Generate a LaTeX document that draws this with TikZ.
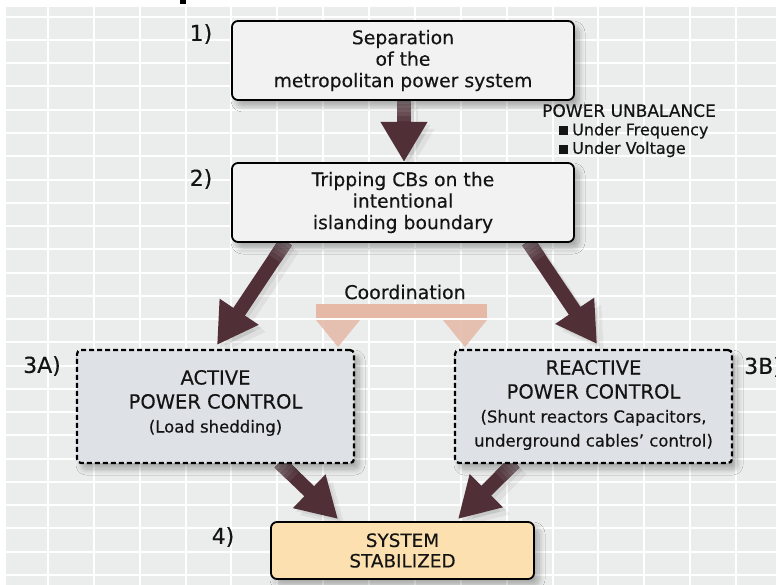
\documentclass[tikz,border=0pt]{standalone}
\usepackage{fontspec}
\setmainfont{DejaVu Sans}[FakeBold=0.35]
\usetikzlibrary{arrows.meta,shadows.blur,calc}
\definecolor{gridbg}{RGB}{235,236,236}
\definecolor{arrowc}{RGB}{80,47,55}
\definecolor{fadec}{RGB}{160,148,152}
\definecolor{boxgray}{RGB}{242,242,242}
\definecolor{boxblue}{RGB}{222,226,230}
\definecolor{boxpeach}{RGB}{252,224,175}
\definecolor{coordc}{RGB}{229,185,166}
\definecolor{txt}{RGB}{20,20,20}
\tikzset{
  boxshadow/.style={blur shadow={shadow xshift=5pt, shadow yshift=-6pt, shadow blur steps=10, shadow blur radius=6pt, shadow opacity=30}},
  stepbox/.style={draw=black, line width=1.8pt, rounded corners=6pt, fill=boxgray,
    minimum width=342pt, minimum height=79pt, align=center, text=txt, inner sep=0pt,
    font=\fontsize{18.8}{21.5}\selectfont, boxshadow},
  ctrlbox/.style={draw=black, line width=2.2pt, dash pattern=on 5pt off 3pt, rounded corners=4pt, fill=boxblue,
    minimum width=277pt, minimum height=113pt, boxshadow},
  ctrltext/.style={align=center, text=txt, inner sep=0pt, font=\fontsize{19.5}{24}\selectfont},
  endbox/.style={draw=black, line width=1.8pt, rounded corners=6pt, fill=boxpeach,
    minimum width=263pt, minimum height=57pt, align=center, text=txt, inner sep=0pt,
    font=\fontsize{18.4}{20.5}\selectfont, boxshadow},
  steplabel/.style={text=txt, font=\fontsize{22}{24}\selectfont, inner sep=0pt},
  bigarrow/.style={draw=arrowc, line width=14pt, -{Triangle[width=44pt,length=40pt]}},
  arrowshadow/.style={bigarrow, draw=black, opacity=#1},
  shaftpiece/.style={line width=14pt}
}
\newcommand{\parenfont}{\fontsize{16.5}{23}\selectfont}
% arrow with soft shadow and a shaft that fades near its source
\newcommand{\fadedarrow}[2]{%
  \draw[arrowshadow=.06, transform canvas={shift={(3pt,-3pt)}}] (#1) -- (#2);
  \draw[arrowshadow=.05, transform canvas={shift={(7pt,-7pt)}}] (#1) -- (#2);
  \draw[bigarrow] (#1) -- (#2);
  \foreach \kk [evaluate=\kk as \fa using 4*\kk, evaluate=\kk as \fb using 4*\kk+4.6,
                evaluate=\kk as \fc using int(75-15*\kk)] in {0,...,4}{
    \draw[shaftpiece, draw=fadec!\fc!arrowc] ($(#1)!\fa pt!(#2)$) -- ($(#1)!\fb pt!(#2)$);
  }%
}
\begin{document}
\begin{tikzpicture}[x=1pt,y=-1pt]
\useasboundingbox (0,0) rectangle (776,585);
% grid background
\fill[gridbg] (6,7) rectangle (776,585);
\foreach \i in {0,...,15} \draw[white,line width=2pt] ({48+45.87*\i},7) -- ({48+45.87*\i},585);
\foreach \j in {0,...,24} \draw[white,line width=2pt] (6,{16.7+23.26*\j}) -- (776,{16.7+23.26*\j});
\fill[black] (180,0) rectangle (186,4);

% box centres
\path (403,60.5) coordinate (c1) (403,202.5) coordinate (c2)
      (215.5,406.5) coordinate (c3a) (593.5,406.5) coordinate (c3b)
      (402.5,550.5) coordinate (c4);

% arrows
\path (c1) ++(1,39.5) coordinate (a1s) (c2) ++(1,-40.5) coordinate (a1e);
\fadedarrow{a1s}{a1e}
\path (c2) ++(-117,39) coordinate (a2s) (c3a) ++(1.5,-61.5) coordinate (a2e);
\fadedarrow{a2s}{a2e}
\path (c2) ++(125,39) coordinate (a3s) (c3b) ++(3.5,-62.5) coordinate (a3e);
\fadedarrow{a3s}{a3e}
\path (c3a) ++(64,56) coordinate (a4s) (c4) ++(-64.5,-31.5) coordinate (a4e);
\fadedarrow{a4s}{a4e}
\path (c3b) ++(-79,56) coordinate (a5s) (c4) ++(55.5,-31.5) coordinate (a5e);
\fadedarrow{a5s}{a5e}

\node[stepbox] (b1) at (c1) {Separation\\of the\\metropolitan power system};
\node[stepbox] (b2) at (c2) {Tripping CBs on the\\intentional\\islanding boundary};
\node[ctrlbox] (b3a) at (c3a) {};
\node[ctrltext] (t3a) at ([yshift=3.5pt]b3a.center) {ACTIVE\\POWER CONTROL\\{\parenfont (Load shedding)}};
\node[ctrlbox] (b3b) at (c3b) {};
\node[ctrltext] (t3b) at ([yshift=1.5pt]b3b.center) {REACTIVE\\POWER CONTROL\\{\parenfont (Shunt reactors Capacitors,}\\{\parenfont underground cables’ control)}};
\node[endbox] (b4) at (c4) {SYSTEM\\STABILIZED};

% step labels
\node[steplabel] (l1) at (201,34) {1)};
\node[steplabel] (l2) at (201,179) {2)};
\node[steplabel] (l3a) at (42,366) {3A)};
\node[steplabel,anchor=west] (l3b) at (744,367) {3B)};
\node[steplabel] (l4) at (223,537) {4)};

% power unbalance
\node[anchor=north west, align=left, inner sep=0pt, text=txt,
      font=\fontsize{16}{18.5}\selectfont] (pu) at (542,104)
  {{\fontsize{17}{18.5}\selectfont POWER UNBALANCE}\\
   \hspace*{17pt}\rule{9pt}{9pt}\kern4pt Under Frequency\\
   \hspace*{17pt}\rule{9pt}{9pt}\kern4pt Under Voltage};

% coordination
\node[text=txt, font=\fontsize{19}{20}\selectfont] (coord) at (405,292) {Coordination};
\fill[coordc] (316,304) rectangle (487,318);
\fill[coordc, opacity=.85] (316,320) -- (360,320) -- (338,347) -- cycle;
\fill[coordc, opacity=.85] (443,320) -- (487,320) -- (465,347) -- cycle;
\end{tikzpicture}
\end{document}
